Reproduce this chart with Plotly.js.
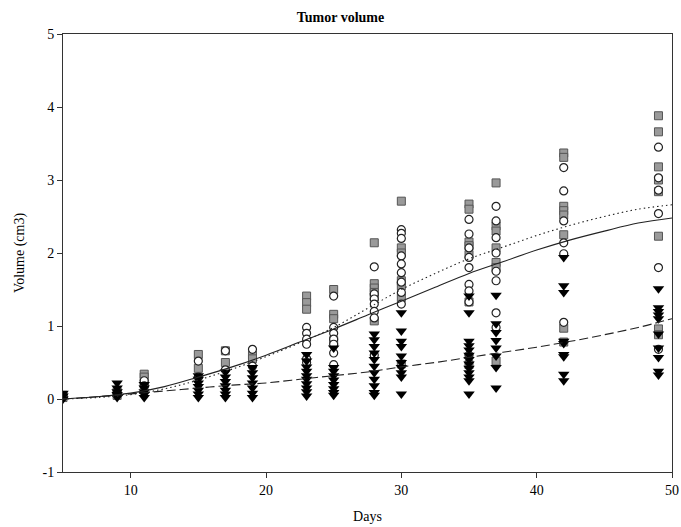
<!DOCTYPE html>
<html>
<head>
<meta charset="utf-8">
<script src="https://cdn.plot.ly/plotly-3.0.1.min.js"></script>
<style>html,body{margin:0;padding:0;background:#fff;}#chart{width:681px;height:527px;}</style>
</head>
<body>
<div id="chart"></div>
<script>
// Group 1: grey squares
const sqDays = [5,5, 9,9, 11,11,11, 15,15, 17,17, 19,19, 23,23,23, 25,25,25,25,
  28,28,28,28,28,28, 30,30,30,30,30,30,30, 35,35,35,35,35,35,35, 37,37,37,37,37,37,37,
  42,42,42,42,42,42,42,42, 49,49,49,49,49,49,49,49];
const sqVol = [0.05,0.02, 0.1,0.05, 0.34,0.3,0.2, 0.61,0.42, 0.66,0.5, 0.6,0.55, 1.41,1.32,1.23, 1.5,1.16,1.1,0.8,
  2.14,1.58,1.52,1.46,1.4,1.07, 2.71,2.07,2.0,1.62,1.55,1.39,0.48, 2.67,2.6,2.15,2.1,1.98,1.33,0.47, 2.96,2.37,2.3,2.07,1.87,1.8,0.52,
  3.37,3.31,2.64,2.58,2.52,2.25,0.97,0.78, 3.88,3.66,3.18,3.0,2.84,2.23,0.96,0.88];

// Group 2: open circles
const ciDays = [5, 9, 11,11, 15,15, 17,17, 19,19, 23,23,23,23,23,23, 25,25,25,25,25,25,25,
  28,28,28,28,28,28,28, 30,30,30,30,30,30,30,30,30, 35,35,35,35,35,35,35,35,35,
  37,37,37,37,37,37,37,37, 42,42,42,42,42,42, 49,49,49,49,49,49];
const ciVol = [0.03, 0.08, 0.25,0.18, 0.52,0.3, 0.66,0.4, 0.68,0.45, 0.98,0.9,0.82,0.75,0.55,0.5, 1.41,0.98,0.9,0.82,0.75,0.63,0.47,
  1.81,1.44,1.37,1.3,1.2,1.11,0.6, 2.32,2.27,2.2,1.96,1.85,1.73,1.6,1.46,1.3, 2.46,2.26,2.07,1.94,1.8,1.57,1.48,1.33,0.6,
  2.64,2.44,2.21,2.0,1.75,1.62,1.18,0.98, 3.17,2.85,2.44,2.14,1.99,1.05, 3.45,3.03,2.86,2.54,1.8,0.68];

// Group 3: black triangles
const trDays = [5,5,5, 9,9,9,9,9, 11,11,11,11,11, 15,15,15,15,15,15,15, 17,17,17,17,17,17,17, 19,19,19,19,19,19,19,
  23,23,23,23,23,23,23,23,23,23, 25,25,25,25,25,25,25,25,25, 28,28,28,28,28,28,28,28,28,28,28,
  30,30,30,30,30,30,30,30,30,30, 35,35,35,35,35,35,35,35,35,35,35,35,35, 37,37,37,37,37,37,37,37,
  42,42,42,42,42,42,42,42,42, 49,49,49,49,49,49,49,49,49,49];
const trVol = [0.08,0.04,0.0, 0.22,0.15,0.1,0.06,0.02, 0.2,0.15,0.1,0.06,0.02, 0.32,0.27,0.22,0.17,0.12,0.07,0.02,
  0.37,0.3,0.24,0.18,0.12,0.07,0.02, 0.43,0.36,0.29,0.22,0.15,0.08,0.02,
  0.61,0.52,0.44,0.38,0.32,0.27,0.21,0.15,0.1,0.04, 0.7,0.43,0.38,0.32,0.26,0.2,0.14,0.09,0.05,
  0.89,0.81,0.72,0.63,0.54,0.45,0.36,0.27,0.18,0.09,0.05,
  1.18,0.93,0.79,0.72,0.59,0.5,0.43,0.36,0.3,0.07, 1.41,1.18,0.79,0.73,0.67,0.6,0.54,0.48,0.42,0.36,0.3,0.25,0.07,
  1.42,1.03,0.91,0.8,0.7,0.59,0.43,0.15, 1.94,1.55,1.46,0.79,0.76,0.61,0.58,0.34,0.25,
  1.51,1.25,1.2,1.15,1.1,0.89,0.7,0.57,0.38,0.33];

// Fitted curves
const fitDays = [5,7.5,10,12.5,15,17.5,20,22.5,25,27.5,30,32.5,35,37.5,40,42.5,45,47.5,50];
const fitSolid = [0.0,0.03,0.08,0.17,0.3,0.44,0.6,0.78,0.96,1.15,1.34,1.53,1.72,1.88,2.04,2.18,2.3,2.41,2.48];
const fitDotted = [0.0,0.02,0.06,0.14,0.26,0.41,0.58,0.77,0.98,1.24,1.5,1.72,1.92,2.08,2.24,2.38,2.5,2.6,2.66];
const fitDashed = [0.0,0.03,0.07,0.11,0.15,0.19,0.22,0.27,0.32,0.37,0.44,0.5,0.57,0.64,0.71,0.79,0.88,0.98,1.1];

const xTicks = [10,20,30,40,50];
const yTicks = [-1,0,1,2,3,4,5];

const serif = "Liberation Serif, Times New Roman, serif";

const traces = [
  {x: sqDays, y: sqVol, mode: 'markers', type: 'scatter',
   marker: {symbol: 'square', size: 8, color: '#9a9a9a', line: {color: '#555', width: 1}}},
  {x: ciDays, y: ciVol, mode: 'markers', type: 'scatter',
   marker: {symbol: 'circle', size: 8, color: '#fff', line: {color: '#222', width: 1.2}}},
  {x: trDays, y: trVol, mode: 'markers', type: 'scatter',
   marker: {symbol: 'triangle-down', size: 10, color: '#000', line: {width: 0}}},
  {x: fitDays, y: fitSolid, mode: 'lines', type: 'scatter',
   line: {color: '#222', width: 1.1, dash: 'solid', shape: 'spline'}},
  {x: fitDays, y: fitDotted, mode: 'lines', type: 'scatter',
   line: {color: '#222', width: 1.1, dash: '1.5px,3px', shape: 'spline'}},
  {x: fitDays, y: fitDashed, mode: 'lines', type: 'scatter',
   line: {color: '#222', width: 1.1, dash: '9px,4px', shape: 'spline'}}
];

const layout = {
  width: 681, height: 527,
  margin: {l: 63, r: 9, t: 34, b: 55},
  paper_bgcolor: '#fff', plot_bgcolor: '#fff',
  showlegend: false,
  font: {family: serif, color: '#000', size: 14},
  title: {text: '<b>Tumor volume</b>', x: 0.5, xanchor: 'center', y: 0.967, yanchor: 'middle',
          font: {family: serif, size: 14, color: '#000'}},
  xaxis: {
    range: [5, 50], tickvals: xTicks, ticktext: xTicks.map(String),
    showgrid: false, zeroline: false, showline: true, linecolor: '#333', linewidth: 1,
    mirror: true, ticks: 'outside', ticklen: 5, tickcolor: '#333',
    tickfont: {family: serif, size: 14, color: '#000'},
    title: {text: 'Days', font: {family: serif, size: 14, color: '#000'}, standoff: 14}
  },
  yaxis: {
    range: [-1, 5], tickvals: yTicks, ticktext: yTicks.map(String),
    showgrid: false, zeroline: false, showline: true, linecolor: '#333', linewidth: 1,
    mirror: true, ticks: 'outside', ticklen: 5, tickcolor: '#333',
    tickfont: {family: serif, size: 14, color: '#000'},
    title: {text: 'Volume (cm3)', font: {family: serif, size: 14, color: '#000'}, standoff: 14}
  }
};

Plotly.newPlot('chart', traces, layout, {staticPlot: true, displayModeBar: false});
</script>
</body>
</html>
